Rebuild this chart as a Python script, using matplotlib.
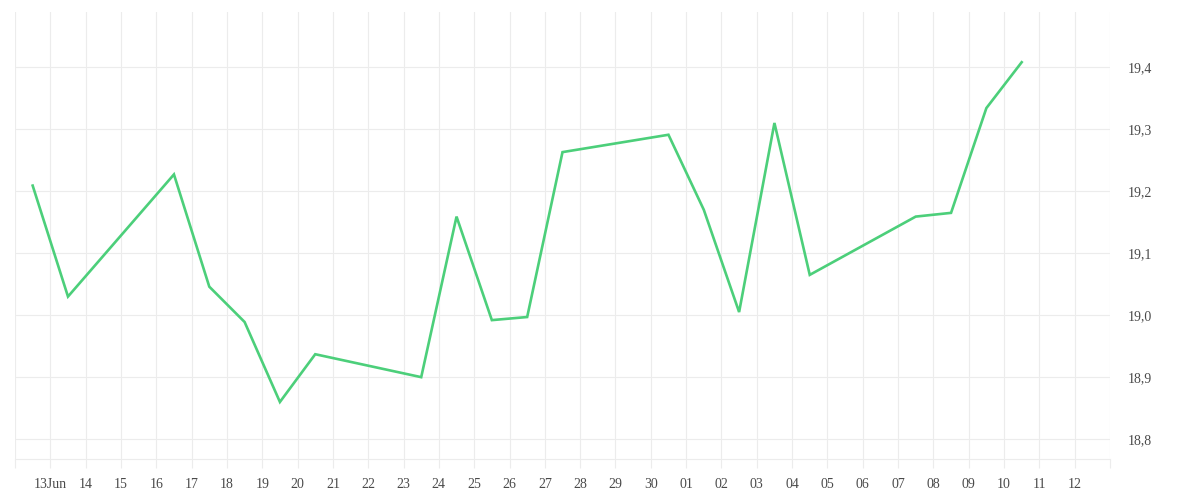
import matplotlib
matplotlib.use("Agg")
import matplotlib.pyplot as plt
import pandas as pd

# ---- data ----
dates = ["2019-06-13", "2019-06-14", "2019-06-17", "2019-06-18", "2019-06-19",
         "2019-06-20", "2019-06-21", "2019-06-24", "2019-06-25", "2019-06-26",
         "2019-06-27", "2019-06-28", "2019-07-01", "2019-07-02", "2019-07-03",
         "2019-07-04", "2019-07-05", "2019-07-08", "2019-07-09", "2019-07-10",
         "2019-07-11"]
values = [19.209, 19.030, 19.227, 19.046, 18.989,
          18.860, 18.937, 18.900, 19.159, 18.992,
          18.997, 19.263, 19.291, 19.170, 19.005,
          19.310, 19.065, 19.159, 19.165, 19.334,
          19.408]

tick_start = "2019-06-12"
tick_end = "2019-07-13"
x_tick_labels = ["", "13Jun", "14", "15", "16", "17", "18", "19", "20", "21", "22",
                 "23", "24", "25", "26", "27", "28", "29", "30", "01", "02",
                 "03", "04", "05", "06", "07", "08", "09", "10", "11", "12", ""]
y_ticks = [18.8, 18.9, 19.0, 19.1, 19.2, 19.3, 19.4]
y_tick_labels = ["18,8", "18,9", "19,0", "19,1", "19,2", "19,3", "19,4"]

# ---- style ----
plt.rcParams["font.family"] = ["Liberation Serif", "DejaVu Serif"]
grid_col = "#ececec"
text_col = "#4a4a4a"
line_col = "#4ccf7a"

fig = plt.figure(figsize=(12, 5), dpi=100)
ax = fig.add_axes([15 / 1200, 41 / 500, (1110 - 15) / 1200, (459 - 12) / 500])

x = pd.to_datetime(dates) - pd.Timedelta(hours=12)
ax.plot(x, values, color=line_col, linewidth=1.9, solid_joinstyle="miter", zorder=3)

ticks = pd.date_range(tick_start, tick_end, freq="D")
ax.set_xlim(ticks[0], ticks[-1])
ax.set_ylim(18.768, 19.489)

ax.set_xticks(ticks)
ax.set_xticklabels(x_tick_labels)
ax.set_yticks(y_ticks)
ax.set_yticklabels(y_tick_labels)

ax.yaxis.tick_right()
ax.tick_params(axis="x", length=6.5, width=0.8, color=grid_col, pad=7,
               labelsize=10, labelcolor=text_col)
ax.tick_params(axis="y", length=0, pad=13, labelsize=10, labelcolor=text_col)

ax.grid(True, color=grid_col, linewidth=0.8, zorder=0)
ax.set_axisbelow(True)
for s in ["top", "left", "right"]:
    ax.spines[s].set_visible(False)
ax.spines["bottom"].set_color(grid_col)
ax.spines["bottom"].set_linewidth(0.8)

fig.savefig("out.png", dpi=100)
